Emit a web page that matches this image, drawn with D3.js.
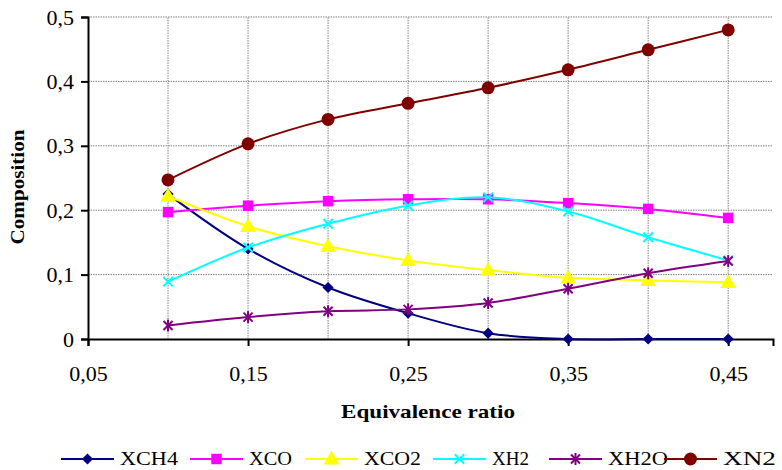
<!DOCTYPE html>
<html>
<head>
<meta charset="utf-8">
<script src="https://cdn.jsdelivr.net/npm/d3@7"></script>
<style>
  body { margin: 0; background: #fff; }
</style>
</head>
<body>
<svg id="chart"></svg>
<script>
const w = 782;
const h = 470;
const serif = "'Liberation Serif', 'DejaVu Serif', 'Times New Roman', serif";

// equivalence ratio values
const ratios = [0.10, 0.15, 0.20, 0.25, 0.30, 0.35, 0.40, 0.45];

const xch4 = [0.225, 0.140, 0.080, 0.040, 0.009, 0.000, 0.000, 0.000];
const xco  = [0.197, 0.207, 0.214, 0.217, 0.217, 0.211, 0.202, 0.188];
const xco2 = [0.222, 0.175, 0.144, 0.122, 0.107, 0.095, 0.091, 0.088];
const xh2  = [0.089, 0.142, 0.179, 0.207, 0.220, 0.198, 0.158, 0.122];
const xh2o = [0.021, 0.034, 0.043, 0.046, 0.056, 0.078, 0.102, 0.121];
const xn2  = [0.247, 0.303, 0.341, 0.366, 0.390, 0.418, 0.449, 0.480];

const seriesNames = ["XCH4", "XCO", "XCO2", "XH2", "XH2O", "XN2"];
const seriesValues = [xch4, xco, xco2, xh2, xh2o, xn2];
const seriesColors = ["#000080", "#ff00ff", "#ffff00", "#00ffff", "#800080", "#800000"];
const markers = ["diamond", "square", "triangle", "x", "star", "circle"];

const xTicks = [0.05, 0.15, 0.25, 0.35, 0.45];
const xGrid = [0.10, 0.15, 0.20, 0.25, 0.30, 0.35, 0.40, 0.45];
const yTicks = [0, 0.1, 0.2, 0.3, 0.4, 0.5];

const m = {left: 88, top: 17, right: 9, bottom: 131};

const svg = d3.select("#chart").attr("width", w).attr("height", h)
  .style("font-family", serif);

const x = d3.scaleLinear().domain([0.05, 0.478]).range([m.left, w - m.right]);
const y = d3.scaleLinear().domain([0, 0.5]).range([h - m.bottom, m.top]);

const comma = v => v === 0 ? "0" : String(v).replace(".", ",");

// grid
svg.append("g").selectAll("line").data(yTicks.slice(1)).enter().append("line")
  .attr("x1", x.range()[0]).attr("x2", x.range()[1])
  .attr("y1", d => y(d)).attr("y2", d => y(d))
  .attr("stroke", "#808080").attr("stroke-width", 1).attr("stroke-dasharray", "1.5,1");
svg.append("g").selectAll("line").data(xGrid).enter().append("line")
  .attr("x1", d => x(d)).attr("x2", d => x(d))
  .attr("y1", y(0)).attr("y2", y(0.5))
  .attr("stroke", "#808080").attr("stroke-width", 1).attr("stroke-dasharray", "1.5,1");

// axes
const yAxis = svg.append("g").attr("transform", `translate(${m.left},0)`)
  .call(d3.axisLeft(y).tickValues(yTicks).tickSize(7).tickPadding(7).tickFormat(comma));
const xAxis = svg.append("g").attr("transform", `translate(0,${y(0)})`)
  .call(d3.axisBottom(x).tickValues(xTicks).tickSize(7).tickPadding(19).tickFormat(comma));
[yAxis, xAxis].forEach(a => {
  a.attr("font-family", serif);
  a.select(".domain").attr("stroke", "#000").attr("stroke-width", 2);
  a.selectAll(".tick line").attr("stroke", "#000").attr("stroke-width", 2);
  a.selectAll("text").style("font-size", "22px").style("font-family", serif).attr("fill", "#000");
});

// axis titles
svg.append("text").attr("x", 428).attr("y", 418).attr("text-anchor", "middle")
  .style("font-size", "19px").style("font-weight", "bold").style("font-family", serif)
  .attr("textLength", 174).attr("lengthAdjust", "spacingAndGlyphs")
  .text("Equivalence ratio");
svg.append("text").attr("transform", `translate(24,187) rotate(-90)`).attr("text-anchor", "middle")
  .style("font-size", "19px").style("font-weight", "bold").style("font-family", serif)
  .attr("textLength", 115).attr("lengthAdjust", "spacingAndGlyphs")
  .text("Composition");

// marker shapes
const drawMarker = (g, type, color, cx, cy) => {
  if (type === "diamond") {
    g.append("path").attr("d", d3.symbol(d3.symbolDiamond2, 80)()).attr("transform", `translate(${cx},${cy})`)
      .attr("fill", color);
  } else if (type === "square") {
    g.append("path").attr("d", d3.symbol(d3.symbolSquare, 110)()).attr("transform", `translate(${cx},${cy})`)
      .attr("fill", color);
  } else if (type === "triangle") {
    g.append("path").attr("d", d3.symbol(d3.symbolTriangle, 110)()).attr("transform", `translate(${cx},${cy + 1})`)
      .attr("fill", color);
  } else if (type === "x") {
    g.append("path").attr("d", d3.symbol(d3.symbolTimes, 60)()).attr("transform", `translate(${cx},${cy})`)
      .attr("fill", "none").attr("stroke", color).attr("stroke-width", 2);
  } else if (type === "star") {
    g.append("path").attr("d", d3.symbol(d3.symbolTimes, 55)()).attr("transform", `translate(${cx},${cy})`)
      .attr("fill", "none").attr("stroke", color).attr("stroke-width", 2);
    g.append("line").attr("x1", cx).attr("x2", cx).attr("y1", cy - 6).attr("y2", cy + 6)
      .attr("stroke", color).attr("stroke-width", 2);
  } else {
    g.append("circle").attr("cx", cx).attr("cy", cy).attr("r", 6.5).attr("fill", color);
  }
};

// series
const line = d3.line().x(d => x(d[0])).y(d => y(d[1])).curve(d3.curveCatmullRom.alpha(0.5));
seriesValues.forEach((vals, i) => {
  const pts = ratios.map((r, j) => [r, vals[j]]);
  const g = svg.append("g");
  g.append("path").attr("d", line(pts)).attr("fill", "none")
    .attr("stroke", seriesColors[i]).attr("stroke-width", 2);
  pts.forEach(p => drawMarker(g, markers[i], seriesColors[i], x(p[0]), y(p[1])));
});

// legend
const legendX = [61, 190, 305, 433, 549, 664];
const legendW = [58, 43, 57, 37, 60, 53];
const legendY = 459;
const legend = svg.append("g");
seriesNames.forEach((name, i) => {
  const lx = legendX[i];
  legend.append("line").attr("x1", lx).attr("x2", lx + 53).attr("y1", legendY).attr("y2", legendY)
    .attr("stroke", seriesColors[i]).attr("stroke-width", 2);
  drawMarker(legend, markers[i], seriesColors[i], lx + 26.5, legendY);
  legend.append("text").attr("x", lx + 59).attr("y", legendY + 6)
    .style("font-size", "19px").style("font-family", serif)
    .attr("textLength", legendW[i]).attr("lengthAdjust", "spacingAndGlyphs")
    .text(name);
});
</script>
</body>
</html>
